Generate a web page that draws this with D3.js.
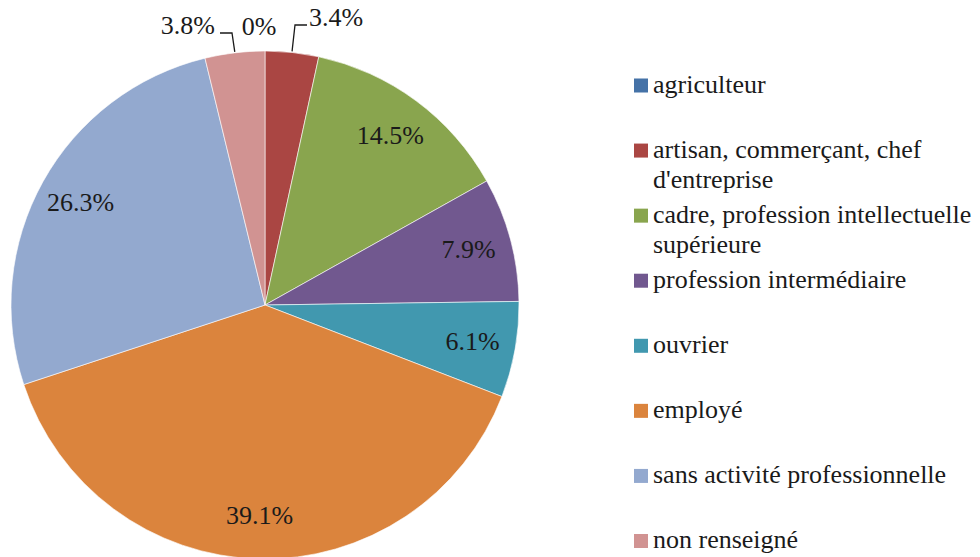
<!DOCTYPE html>
<html><head><meta charset="utf-8">
<script src="https://cdn.jsdelivr.net/npm/d3@7"></script>
</head><body style="margin:0">
<div id="wrap" style="position:relative;width:980px;height:557px;overflow:hidden;background:#fff">
<svg id="c" width="980" height="557" style="position:absolute;left:0;top:0"></svg>
</div>
<script>
const categories = ["agriculteur","artisan, commerçant, chef d'entreprise","cadre, profession intellectuelle supérieure","profession intermédiaire","ouvrier","employé","sans activité professionnelle","non renseigné"];
const legendLines = [["agriculteur"],["artisan, commerçant, chef","d'entreprise"],["cadre, profession intellectuelle","supérieure"],["profession intermédiaire"],["ouvrier"],["employé"],["sans activité professionnelle"],["non renseigné"]];
// slice sizes as drawn in the picture; labels as printed
const values = [0, 3.4, 13.5, 7.9, 6.1, 39.1, 26.3, 3.8];
const labels = ["0%","3.4%","14.5%","7.9%","6.1%","39.1%","26.3%","3.8%"];
const colors = ["#4572A7","#AA4643","#89A54E","#71588F","#4198AF","#DB843D","#93A9CF","#D19392"];

const svg = d3.select("#c");
const wrap = d3.select("#wrap");
const cx = 265, cy = 305, R = 254;
const pie = d3.pie().sort(null).value(d => d)(values);
const arc = d3.arc().innerRadius(0).outerRadius(R);
const labelArc = d3.arc().innerRadius(R*0.83).outerRadius(R*0.83);
const edgeArc = d3.arc().innerRadius(R).outerRadius(R);

svg.append("g").attr("transform", `translate(${cx},${cy})`)
  .selectAll("path").data(pie).enter().append("path")
  .attr("d", arc).attr("fill", (d,i) => colors[i])
  .attr("stroke", "#fff").attr("stroke-width", 0.6);

// text as HTML, positioned by baseline
const fs = 26, LH = 30, BASE = 24;
function txt(x, baseline, s, anchor) {
  const shift = anchor === "middle" ? "-50%" : anchor === "end" ? "-100%" : "0";
  return wrap.append("div")
    .style("position","absolute").style("left", x + "px").style("top", (baseline - BASE) + "px")
    .style("transform", `translateX(${shift})`).style("white-space","nowrap")
    .style("font-family","Liberation Serif").style("font-size", fs + "px")
    .style("line-height", LH + "px").style("color","#1a1a1a").text(s);
}
pie.forEach((d,i) => {
  if (values[i] >= 5) {
    const c = labelArc.centroid(d);
    txt(cx + c[0], cy + c[1] + 9, labels[i], "middle");
  }
});
const outside = {
  0: {tx: 259, ty: 36, anchor: "middle", leader: null},
  1: {tx: 309, ty: 27, anchor: "start", leader: {vx: 295, vy: 25, hx: 307}},
  7: {tx: 215, ty: 35, anchor: "end", leader: {vx: 232, vy: 33, hx: 220}}
};
Object.keys(outside).forEach(k => {
  const i = +k, o = outside[k];
  txt(o.tx, o.ty, labels[i], o.anchor);
  if (o.leader) {
    const e = edgeArc.centroid(pie[i]);
    const pts = [[cx + e[0], cy + e[1] - 1], [o.leader.vx, o.leader.vy], [o.leader.hx, o.leader.vy]];
    svg.append("path").attr("d", d3.line()(pts)).attr("fill","none")
      .attr("stroke", "#1a1a1a").attr("stroke-width",1.3);
  }
});

const ly = d3.scaleLinear().domain([0, categories.length-1]).range([85.5, 541]);
categories.forEach((c,i) => {
  const y = ly(i);
  svg.append("rect").attr("x", 634).attr("y", y-7).attr("width", 14).attr("height", 14).attr("fill", colors[i]);
  legendLines[i].forEach((ln, j) => txt(653, y + 8 + j*30, ln));
});
</script>
</body></html>
